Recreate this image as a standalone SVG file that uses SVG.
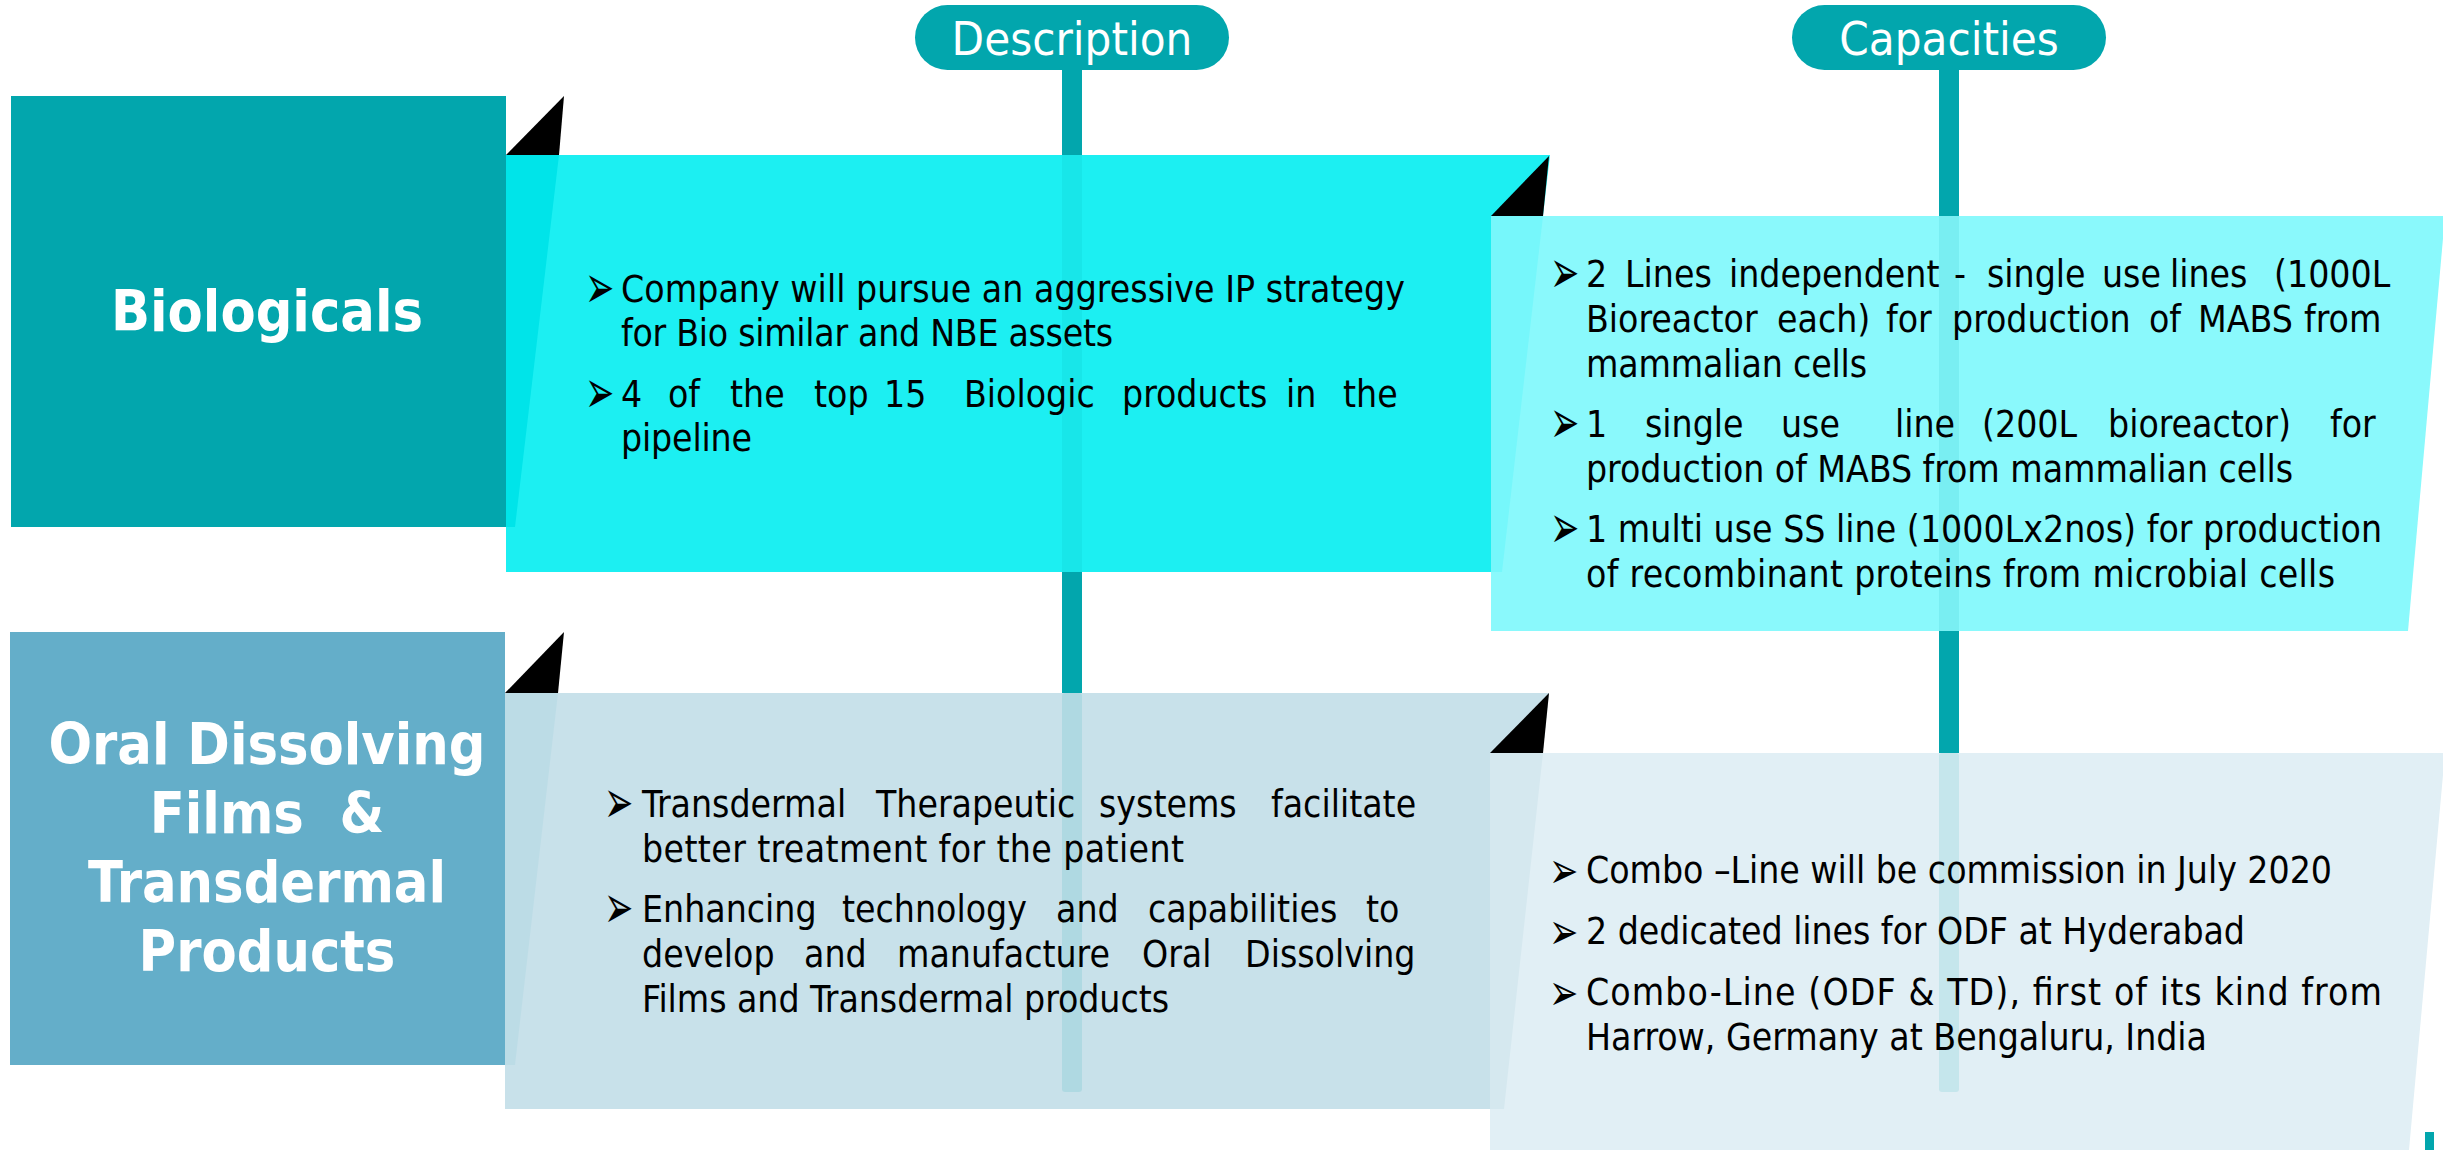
<svg xmlns="http://www.w3.org/2000/svg" width="2443" height="1150" viewBox="0 0 2443 1150">
<style>
.t{font-family:"DejaVu Sans Condensed","DejaVu Sans",sans-serif;font-stretch:condensed;font-size:37px;fill:#000}
.b{font-family:"DejaVu Sans",sans-serif;font-size:35px;fill:#000}
.b2{font-family:"DejaVu Sans",sans-serif;font-size:33px;fill:#000}
.lbl{font-family:"DejaVu Sans Condensed","DejaVu Sans",sans-serif;font-stretch:condensed;font-weight:bold;font-size:57px;fill:#fff;text-anchor:middle}
.hdr{font-family:"DejaVu Sans Condensed","DejaVu Sans",sans-serif;font-stretch:condensed;font-size:47px;fill:#fff;text-anchor:middle}
.teal{fill:#02A6AD}
.flap{fill:#000}
.ov{fill:#02A6AD;fill-opacity:0.12}
</style>
<rect width="2443" height="1150" fill="#fff"/>

<g id="connectors">
  <rect class="teal" x="1062" y="60" width="20" height="1032" rx="3"/>
  <rect class="teal" x="1939" y="60" width="20" height="1032" rx="3"/>
</g>

<g id="node-biologicals">
  <rect class="teal" x="11" y="96" width="495" height="431"/>
  <text class="lbl" x="267" y="331">Biologicals</text>
</g>

<g id="node-desc-bio">
  <polygon points="506,155 1550,155 1502,572 506,572" fill="#1CEFF2"/>
  <polygon points="506,155 559,155 515,527 506,527" fill="#00E4E9"/>
  <polygon class="flap" points="506,155 564,96 559,155"/>
</g>

<g id="node-cap-bio">
  <polygon points="1491,216 2445,216 2408,631 1491,631" fill="#8AF9FC"/>
  <polygon points="1491,216 1543,216 1502,572 1491,572" fill="#76F7FB"/>
  <polygon class="flap" points="1491,216 1549,156 1543,216"/>
</g>

<g id="node-oral">
  <rect x="10" y="632" width="495" height="433" fill="#64AEC9"/>
  <text class="lbl" x="267" y="764">Oral Dissolving</text>
  <text class="lbl" x="267" y="833">Films&#160; &amp;</text>
  <text class="lbl" x="267" y="902">Transdermal</text>
  <text class="lbl" x="267" y="971">Products</text>
</g>

<g id="node-desc-oral">
  <polygon points="505,693 1549,693 1504,1109 505,1109" fill="#C8E1EA"/>
  <polygon points="505,693 558,693 515,1065 505,1065" fill="#BCDCE6"/>
  <polygon class="flap" points="505,693 564,632 558,693"/>
</g>

<g id="node-cap-oral">
  <polygon points="1490,753 2445,753 2409,1150 1490,1150" fill="#E1EFF5"/>
  <polygon points="1490,753 1543,753 1504,1109 1490,1109" fill="#D5E8EF"/>
  <polygon class="flap" points="1490,753 1549,693 1543,753"/>
</g>

<g id="bar-overlay">
  <rect class="ov" x="1062" y="155" width="20" height="417"/>
  <rect class="ov" x="1062" y="693" width="20" height="399" rx="3"/>
  <rect class="ov" x="1939" y="216" width="20" height="415"/>
  <rect class="ov" x="1939" y="753" width="20" height="339" rx="3"/>
</g>

<g id="header-description">
  <rect class="teal" x="915" y="5" width="314" height="65" rx="32.5"/>
  <text class="hdr" x="1072" y="55">Description</text>
</g>
<g id="header-capacities">
  <rect class="teal" x="1792" y="5" width="314" height="65" rx="32.5"/>
  <text class="hdr" x="1949" y="55">Capacities</text>
</g>

<g id="text-desc-bio">
  <text class="b" transform="translate(585,308) scale(1,1.75)">➢</text>
  <text class="b" transform="translate(585,413) scale(1,1.75)">➢</text>
  <text class="t" x="621" y="302" textLength="784" lengthAdjust="spacing">Company will pursue an aggressive IP strategy</text>
  <text class="t" x="621" y="346" textLength="492" lengthAdjust="spacing">for Bio similar and NBE assets</text>
  <text class="t" y="407"><tspan x="621">4</tspan><tspan x="668">of</tspan><tspan x="730">the</tspan><tspan x="814">top</tspan><tspan x="884">15</tspan><tspan x="964">Biologic</tspan><tspan x="1122">products</tspan><tspan x="1286">in</tspan><tspan x="1343">the</tspan></text>
  <text class="t" x="621" y="451" textLength="131" lengthAdjust="spacing">pipeline</text>
</g>

<g id="text-cap-bio">
  <text class="b" transform="translate(1550,293) scale(1,1.75)">➢</text>
  <text class="b" transform="translate(1550,443) scale(1,1.75)">➢</text>
  <text class="b" transform="translate(1550,548) scale(1,1.75)">➢</text>
  <text class="t" y="287"><tspan x="1586">2</tspan><tspan x="1625">Lines</tspan><tspan x="1729">independent</tspan><tspan x="1954">-</tspan><tspan x="1987">single</tspan><tspan x="2102">use</tspan><tspan x="2170">lines</tspan><tspan x="2274">(1000L</tspan></text>
  <text class="t" y="332"><tspan x="1586">Bioreactor</tspan><tspan x="1777">each)</tspan><tspan x="1886">for</tspan><tspan x="1952">production</tspan><tspan x="2149">of</tspan><tspan x="2198">MABS</tspan><tspan x="2304">from</tspan></text>
  <text class="t" x="1586" y="377" textLength="281" lengthAdjust="spacing">mammalian cells</text>
  <text class="t" y="437"><tspan x="1586">1</tspan><tspan x="1645">single</tspan><tspan x="1781">use</tspan><tspan x="1895">line</tspan><tspan x="1982">(200L</tspan><tspan x="2108">bioreactor)</tspan><tspan x="2330">for</tspan></text>
  <text class="t" x="1586" y="482" textLength="707" lengthAdjust="spacing">production of MABS from mammalian cells</text>
  <text class="t" x="1586" y="542" textLength="796" lengthAdjust="spacing">1 multi use SS line (1000Lx2nos) for production</text>
  <text class="t" x="1586" y="587" textLength="749" lengthAdjust="spacing">of recombinant proteins from microbial cells</text>
</g>

<g id="text-desc-oral">
  <text class="b" transform="translate(604,823) scale(1,1.75)">➢</text>
  <text class="b" transform="translate(604,928) scale(1,1.75)">➢</text>
  <text class="t" y="817"><tspan x="642">Transdermal</tspan><tspan x="876">Therapeutic</tspan><tspan x="1099">systems</tspan><tspan x="1271">facilitate</tspan></text>
  <text class="t" x="642" y="862" textLength="542" lengthAdjust="spacing">better treatment for the patient</text>
  <text class="t" y="922"><tspan x="642">Enhancing</tspan><tspan x="842">technology</tspan><tspan x="1056">and</tspan><tspan x="1148">capabilities</tspan><tspan x="1366">to</tspan></text>
  <text class="t" y="967"><tspan x="642">develop</tspan><tspan x="804">and</tspan><tspan x="897">manufacture</tspan><tspan x="1142">Oral</tspan><tspan x="1245">Dissolving</tspan></text>
  <text class="t" x="642" y="1012" textLength="527" lengthAdjust="spacing">Films and Transdermal products</text>
</g>

<g id="text-cap-oral">
  <text class="b2" transform="translate(1549,888) scale(1.06,1.55)">➢</text>
  <text class="b2" transform="translate(1549,949) scale(1.06,1.55)">➢</text>
  <text class="b2" transform="translate(1549,1010) scale(1.06,1.55)">➢</text>
  <text class="t" x="1586" y="883" textLength="746" lengthAdjust="spacing">Combo –Line will be commission in July 2020</text>
  <text class="t" x="1586" y="944" textLength="659" lengthAdjust="spacing">2 dedicated lines for ODF at Hyderabad</text>
  <text class="t" x="1586" y="1005" textLength="796" lengthAdjust="spacing">Combo-Line (ODF &amp; TD), first of its kind from</text>
  <text class="t" x="1586" y="1050" textLength="621" lengthAdjust="spacing">Harrow, Germany at Bengaluru, India</text>
</g>

<rect id="corner-mark" class="teal" x="2425" y="1132" width="9" height="18"/>
</svg>
